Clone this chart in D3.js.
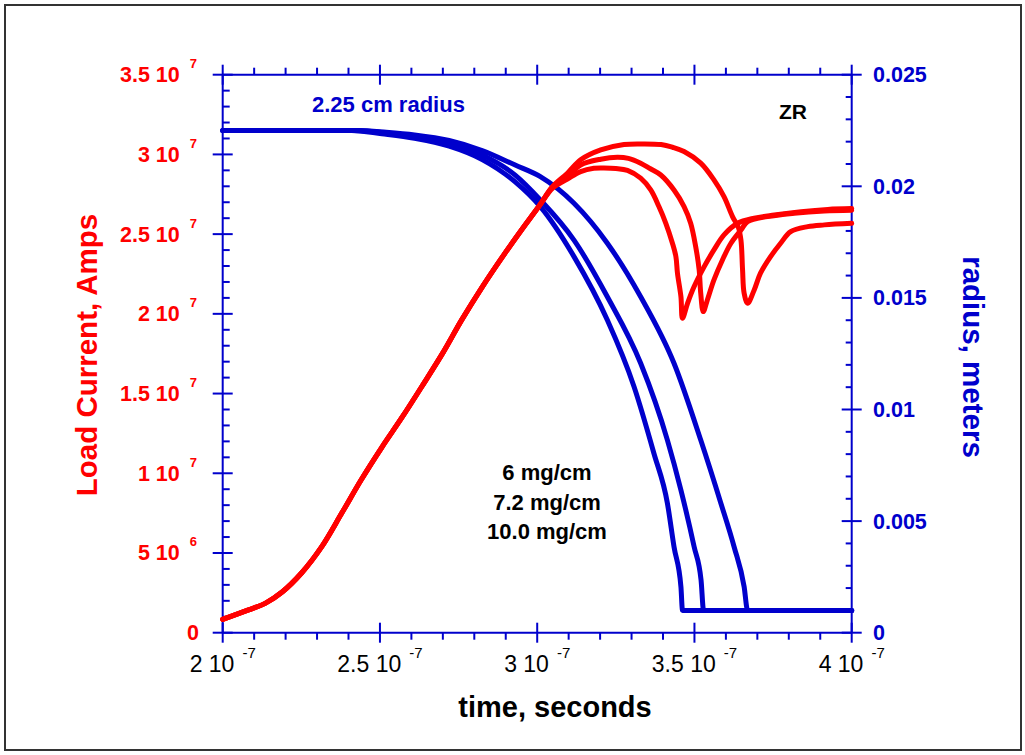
<!DOCTYPE html>
<html>
<head>
<meta charset="utf-8">
<script src="https://cdn.jsdelivr.net/npm/d3@7"></script>
<style>
  html, body { margin: 0; padding: 0; background: #fff; }
  svg { display: block; }
  text { font-family: "Liberation Sans", Arial, Helvetica, sans-serif; }
</style>
</head>
<body>
<div id="chart"></div>
<script>
// ---------------- DATA ----------------
// time in ns (1e-9 s), current in units of 1e7 A, radius in mm
const seriesNames = ["6 mg/cm", "7.2 mg/cm", "10.0 mg/cm"];

const current6_t  = [200, 208, 213.5, 219, 225, 231.5, 238, 244, 250.5, 257, 263.5, 270, 276, 282.5, 289, 295, 300.5, 305,
                     309.6, 313.8, 318, 321.2, 325, 328.7, 332.9, 336.1, 338.7, 340.9, 343, 344.1, 344.6, 345.7, 346.2,
                     347.8, 349.9, 353.1, 356.2, 359.4, 363.7, 369, 375.4, 383.9, 392.4, 400];
const current6_I  = [0.084, 0.142, 0.184, 0.257, 0.373, 0.540, 0.755, 0.958, 1.16, 1.35, 1.55, 1.755, 1.962, 2.168, 2.359, 2.526, 2.673, 2.79,
                     2.845, 2.892, 2.913, 2.915, 2.912, 2.90, 2.851, 2.777, 2.673, 2.568, 2.443, 2.359, 2.255, 2.108, 1.972,
                     2.066, 2.171, 2.296, 2.401, 2.495, 2.568, 2.60, 2.62, 2.641, 2.655, 2.66];

const current72_t = [200, 208, 213.5, 219, 225, 231.5, 238, 244, 250.5, 257, 263.5, 270, 276, 282.5, 289, 295, 300.5, 305,
                     309.6, 313.8, 320.2, 325.5, 329, 332.9, 336, 339.3, 343.5, 346.7, 348.8, 350.4, 351.5, 352, 352.8,
                     354.1, 356.2, 358.9, 361.6, 364.8, 366.9, 373.2, 381.7, 391.3, 400];
const current72_I = [0.084, 0.142, 0.184, 0.257, 0.373, 0.540, 0.755, 0.958, 1.16, 1.35, 1.55, 1.755, 1.962, 2.168, 2.359, 2.526, 2.673, 2.80,
                     2.861, 2.934, 2.97, 2.982, 2.975, 2.945, 2.91, 2.871, 2.777, 2.673, 2.568, 2.421, 2.275, 2.129, 2.014,
                     2.087, 2.213, 2.338, 2.443, 2.526, 2.578, 2.61, 2.631, 2.645, 2.65];

const current10_t = [200, 208, 213.5, 219, 225, 231.5, 238, 244, 250.5, 257, 263.5, 270, 276, 282.5, 289, 295, 300.5, 305,
                     309.6, 313.8, 320.2, 327.6, 333, 339.4, 343, 346.7, 352, 356.2, 359.4, 362.1, 364, 364.8, 365.3, 365.8, 366.9,
                     369, 371, 374.2, 377.4, 380.6, 386, 391.3, 400];
const current10_I = [0.084, 0.142, 0.184, 0.257, 0.373, 0.540, 0.755, 0.958, 1.16, 1.35, 1.55, 1.755, 1.962, 2.168, 2.359, 2.526, 2.673, 2.80,
                     2.882, 2.966, 3.028, 3.062, 3.066, 3.062, 3.045, 3.018, 2.945, 2.84, 2.735, 2.61, 2.54, 2.46, 2.275, 2.129, 2.066,
                     2.15, 2.255, 2.359, 2.443, 2.516, 2.547, 2.558, 2.568];

const radius6_t  = [200, 241, 250.6, 261, 272, 282.5, 293, 301, 311.7, 322.3, 330.8, 337.1, 341.4, 343.5, 345.7, 346.2, 400];
const radius6_r  = [22.5, 22.5, 22.35, 22.15, 21.8, 21.2, 20.2, 19.09, 16.85, 14.01, 11.02, 8.04, 5.8, 3.85, 2.06, 1.0, 1.0];

const radius72_t = [200, 242, 251, 261, 272, 282.5, 293, 301, 311.7, 322.3, 332.9, 341.4, 345.7, 349.9, 352.1, 352.9, 400];
const radius72_r = [22.5, 22.5, 22.4, 22.2, 21.9, 21.4, 20.5, 19.39, 17.59, 15.05, 12.07, 8.63, 6.39, 3.85, 2.36, 1.0, 1.0];

const radius10_t = [200, 243, 252, 261, 272, 282.5, 293, 301, 311.7, 322.3, 332.9, 343.5, 352, 358.4, 362.6, 365.8, 366.9, 400];
const radius10_r = [22.5, 22.5, 22.42, 22.3, 22.05, 21.6, 20.95, 20.43, 19.24, 17.45, 15.05, 12.07, 8.63, 5.8, 3.85, 2.06, 1.0, 1.0];

// ticks
const xTicks = [200, 250, 300, 350, 400];           // ns
const xTickMant = ["2", "2.5", "3", "3.5", "4"];
const xTickExp = "-7";
const yTicks = [0, 0.5, 1, 1.5, 2, 2.5, 3, 3.5];    // 1e7 A
const yTickMant = ["0", "5 10", "1 10", "1.5 10", "2 10", "2.5 10", "3 10", "3.5 10"];
const yTickExp = ["", "6", "7", "7", "7", "7", "7", "7"];
const y2Ticks = [0, 5, 10, 15, 20, 25];               // mm
const y2TickLabels = ["0", "0.005", "0.01", "0.015", "0.02", "0.025"];

// ---------------- CHART ----------------
const W = 1025, H = 755;
const RED = "#ff0000", BLUE = "#0000cc";
const plot = { left: 222.7, right: 851.7, top: 74.7, bottom: 632.7 };

const svg = d3.select("#chart").append("svg").attr("width", W).attr("height", H);

svg.append("rect").attr("x", 5).attr("y", 5).attr("width", 1016).attr("height", 745)
  .attr("fill", "#fff").attr("stroke", "#333").attr("stroke-width", 2);

const x = d3.scaleLinear().domain([200, 400]).range([plot.left, plot.right]);
const y = d3.scaleLinear().domain([0, 3.5]).range([plot.bottom, plot.top]);
const y2 = d3.scaleLinear().domain([0, 25]).range([plot.bottom, plot.top]);

function majorMinor(major, step, nMinor) {
  const minors = [];
  for (let i = 0; i < major.length - 1; i++) {
    for (let k = 1; k <= nMinor; k++) minors.push(major[i] + k * step / (nMinor + 1));
  }
  return minors;
}
const axisG = svg.append("g").attr("stroke", BLUE).attr("stroke-width", 2).attr("fill", "none");

axisG.append("line").attr("x1", plot.left).attr("x2", plot.right).attr("y1", plot.bottom).attr("y2", plot.bottom);
axisG.append("line").attr("x1", plot.left).attr("x2", plot.right).attr("y1", plot.top).attr("y2", plot.top);
axisG.append("line").attr("x1", plot.left).attr("x2", plot.left).attr("y1", plot.top).attr("y2", plot.bottom);
axisG.append("line").attr("x1", plot.right).attr("x2", plot.right).attr("y1", plot.top).attr("y2", plot.bottom);

xTicks.forEach(v => {
  axisG.append("line").attr("x1", x(v)).attr("x2", x(v)).attr("y1", plot.bottom - 10).attr("y2", plot.bottom + 10);
  axisG.append("line").attr("x1", x(v)).attr("x2", x(v)).attr("y1", plot.top - 10).attr("y2", plot.top + 10);
});
majorMinor(xTicks, 50, 4).forEach(v => {
  axisG.append("line").attr("x1", x(v)).attr("x2", x(v)).attr("y1", plot.bottom).attr("y2", plot.bottom + 7);
  axisG.append("line").attr("x1", x(v)).attr("x2", x(v)).attr("y1", plot.top).attr("y2", plot.top - 7);
});
yTicks.forEach(v => {
  axisG.append("line").attr("x1", plot.left - 10).attr("x2", plot.left + 10).attr("y1", y(v)).attr("y2", y(v));
});
majorMinor(yTicks, 0.5, 4).forEach(v => {
  axisG.append("line").attr("x1", plot.left).attr("x2", plot.left + 7).attr("y1", y(v)).attr("y2", y(v));
});
y2Ticks.forEach(v => {
  axisG.append("line").attr("x1", plot.right - 10).attr("x2", plot.right + 10).attr("y1", y2(v)).attr("y2", y2(v));
});
majorMinor(y2Ticks, 5, 4).forEach(v => {
  axisG.append("line").attr("x1", plot.right).attr("x2", plot.right - 6).attr("y1", y2(v)).attr("y2", y2(v));
});

// tick labels
xTicks.forEach((v, i) => {
  const t = svg.append("text").attr("x", x(v)).attr("y", 672).attr("text-anchor", "middle")
    .attr("fill", "#000").attr("font-size", 23);
  t.append("tspan").text(xTickMant[i] + " 10");
  t.append("tspan").attr("dx", 8).attr("dy", -14).attr("font-size", 15).text(xTickExp);
});
yTicks.forEach((v, i) => {
  const t = svg.append("text").attr("y", y(v) + 7.5).attr("text-anchor", "end")
    .attr("fill", RED).attr("font-size", 21.5).attr("font-weight", "bold");
  if (yTickExp[i]) {
    t.attr("x", 197);
    t.append("tspan").text(yTickMant[i]);
    t.append("tspan").attr("dx", 10).attr("dy", -14).attr("font-size", 13).text(yTickExp[i]);
  } else {
    t.attr("x", 199).text(yTickMant[i]);
  }
});
y2Ticks.forEach((v, i) => {
  svg.append("text").attr("x", 873).attr("y", y2(v) + 7.5).attr("text-anchor", "start")
    .attr("fill", BLUE).attr("font-size", 21.5).attr("font-weight", "bold").text(y2TickLabels[i]);
});

// axis titles
svg.append("text").attr("transform", "translate(97,355) rotate(-90)").attr("text-anchor", "middle")
  .attr("fill", RED).attr("font-size", 29.5).attr("font-weight", "bold").text("Load Current, Amps");
svg.append("text").attr("transform", "translate(963,357) rotate(90)").attr("text-anchor", "middle")
  .attr("fill", BLUE).attr("font-size", 29.5).attr("font-weight", "bold").text("radius, meters");
svg.append("text").attr("x", 555).attr("y", 717).attr("text-anchor", "middle")
  .attr("fill", "#000").attr("font-size", 29).attr("font-weight", "bold").text("time, seconds");

// curves
const currentSeries = [
  { t: current6_t, v: current6_I },
  { t: current72_t, v: current72_I },
  { t: current10_t, v: current10_I }
];
const radiusSeries = [
  { t: radius6_t, v: radius6_r },
  { t: radius72_t, v: radius72_r },
  { t: radius10_t, v: radius10_r }
];

const lineI = d3.line().x(d => x(d[0])).y(d => y(d[1])).curve(d3.curveCatmullRom.alpha(0.5));
const lineR = d3.line().x(d => x(d[0])).y(d => y2(d[1])).curve(d3.curveMonotoneX);

const curvesG = svg.append("g");
radiusSeries.forEach(s => {
  const pts = s.t.map((t, i) => [t, s.v[i]]);
  curvesG.append("path").attr("d", lineR(pts)).attr("fill", "none").attr("stroke", BLUE)
    .attr("stroke-width", 5).attr("stroke-linejoin", "round").attr("stroke-linecap", "round");
});
currentSeries.forEach(s => {
  const pts = s.t.map((t, i) => [t, s.v[i]]);
  curvesG.append("path").attr("d", lineI(pts)).attr("fill", "none").attr("stroke", RED)
    .attr("stroke-width", 5).attr("stroke-linejoin", "round").attr("stroke-linecap", "round");
});

// annotations
svg.append("text").attr("x", 312).attr("y", 112).attr("fill", BLUE).attr("font-size", 22)
  .attr("font-weight", "bold").text("2.25 cm radius");
svg.append("text").attr("x", 779).attr("y", 119).attr("fill", "#000").attr("font-size", 21)
  .attr("font-weight", "bold").text("ZR");
seriesNames.forEach((n, i) => {
  svg.append("text").attr("x", 547).attr("y", 480 + i * 29.7).attr("text-anchor", "middle")
    .attr("fill", "#000").attr("font-size", 22).attr("font-weight", "bold").text(n);
});
</script>
</body>
</html>
